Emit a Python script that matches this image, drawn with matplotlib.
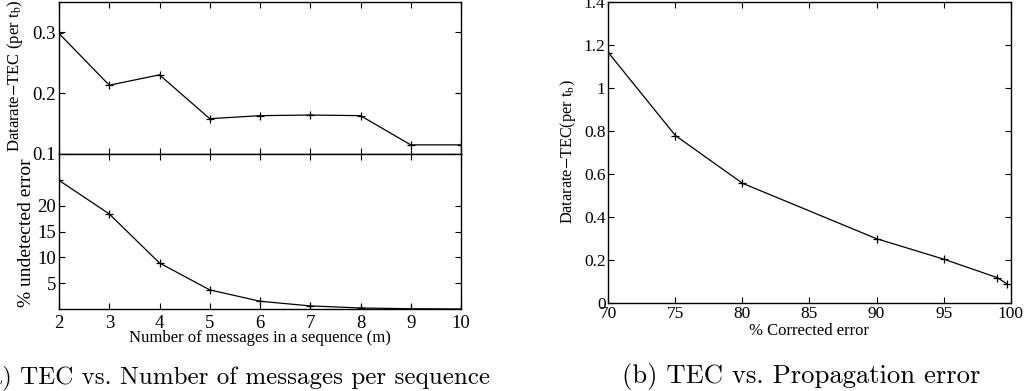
import matplotlib
matplotlib.use("Agg")
import matplotlib.pyplot as plt

plt.rcParams['font.family'] = ['Liberation Serif', 'DejaVu Serif']
plt.rcParams['mathtext.fontset'] = 'stix'

# data
m_values = [2, 3, 4, 5, 6, 7, 8, 9, 10]
tec_m = [0.298, 0.213, 0.230, 0.158, 0.163, 0.164, 0.163, 0.115, 0.115]
undetected = [24.9, 18.4, 8.9, 3.7, 1.5, 0.6, 0.2, 0.05, 0.0]

corrected = [70, 75, 80, 90, 95, 99, 99.7]
tec_corr = [1.165, 0.779, 0.557, 0.299, 0.204, 0.118, 0.090]

W, H = 1028, 391
fig = plt.figure(figsize=(W / 100, H / 100), dpi=100)


def box(x0, y0, x1, y1):
    # pixel box (top-left origin) -> figure fraction rect
    return [x0 / W, 1 - y1 / H, (x1 - x0) / W, (y1 - y0) / H]


def style(ax, size):
    ax.tick_params(direction='in', top=True, right=True, length=4,
                   width=0.8, labelsize=size, pad=2)
    for s in ax.spines.values():
        s.set_linewidth(1.0)


ax1 = fig.add_axes(box(59, 1.8, 461, 154))
ax2 = fig.add_axes(box(59, 154, 461, 309))
ax3 = fig.add_axes(box(608.3, 2, 1010.7, 303))

line = dict(color='k', linewidth=0.9, marker='+', markersize=6,
            markeredgewidth=0.9)

ax1.plot(m_values, tec_m, **line)
ax1.set_xlim(2, 10)
ax1.set_ylim(0.1, 0.35)
ax1.set_yticks([0.1, 0.2, 0.3])
ax1.set_yticklabels(['0.1', '0.2', '0.3'])
ax1.set_xticks(m_values)
ax1.set_xticklabels([])
style(ax1, 13.5)

ax2.plot(m_values, undetected, **line)
ax2.set_xlim(2, 10)
ax2.set_ylim(0, 30)
ax2.set_yticks([5, 10, 15, 20])
ax2.set_xticks(m_values)
style(ax2, 13.5)
ax2.tick_params(axis='x', pad=4)

ax3.plot(corrected, tec_corr, **line)
ax3.set_xlim(70, 100)
ax3.set_ylim(0, 1.4)
ax3.set_xticks(range(70, 101, 5))
yt = [0, 0.2, 0.4, 0.6, 0.8, 1.0, 1.2, 1.4]
ax3.set_yticks(yt)
ax3.set_yticklabels(['0', '0.2', '0.4', '0.6', '0.8', '1', '1.2', '1.4'])
style(ax3, 12.5)

# axis labels
fig.text(15 / W, 1 - 76 / H, 'Datarate$-$TEC (per t$_{\\mathrm{b}}$)',
         rotation=90, ha='center', va='center', fontsize=12)
fig.text(27 / W, 1 - 233 / H, '% undetected error',
         rotation=90, ha='center', va='center', fontsize=14)
fig.text(260 / W, 1 - 338 / H, 'Number of messages in a sequence (m)',
         ha='center', va='center', fontsize=12)
fig.text(568 / W, 1 - 152 / H, 'Datarate$-$TEC(per t$_{\\mathrm{b}}$)',
         rotation=90, ha='center', va='center', fontsize=11.7)
fig.text(809 / W, 1 - 331 / H, '% Corrected error',
         ha='center', va='center', fontsize=12)

# captions
fig.text(490 / W, 1 - 378 / H, '(a) TEC vs. Number of messages per sequence',
         ha='right', va='center', fontsize=18, family='cmr10')
fig.text(621.7 / W, 1 - 377 / H, '(b) TEC vs. Propagation error',
         ha='left', va='center', fontsize=19.2, family='cmr10')

fig.savefig('out.png', dpi=100)
